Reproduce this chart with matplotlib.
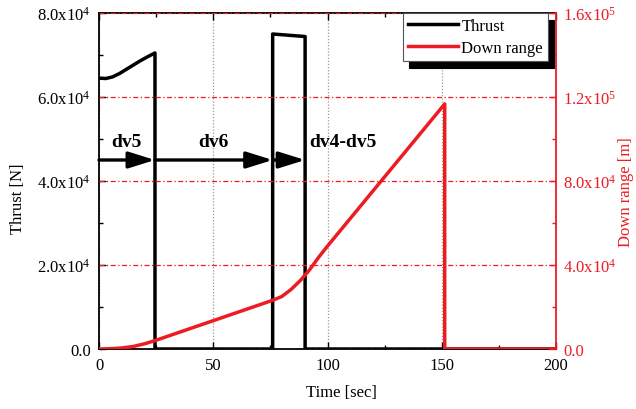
import math
import matplotlib
matplotlib.use("Agg")
import matplotlib.pyplot as plt
from matplotlib.ticker import FuncFormatter, MultipleLocator

# ---------------- data ----------------
thrust_t = [0, 3, 6, 9, 12, 15, 18, 21, 24.5, 24.5, 76, 76, 90.2, 90.2, 200]
thrust_v = [6.45e4, 6.44e4, 6.48e4, 6.56e4, 6.66e4, 6.76e4, 6.86e4, 6.95e4, 7.05e4,
            0, 0, 7.5e4, 7.44e4, 0, 0]

range_t = [0, 5, 10, 15, 20, 24.5, 50, 76, 80, 84, 88, 92, 96, 100, 151.3, 151.3, 200]
range_v = [0, 150, 500, 1200, 2500, 4000, 13500, 23200, 25000, 28300, 32500, 37500,
           43500, 49000, 116700, 0, 0]

phase_bounds = [0, 24.5, 76, 90.2]
phase_labels = ["dv5", "dv6", "dv4-dv5"]
phase_label_x = [12, 50, 92]
arrow_level = 4.5e4

RED = "#ED1C24"

plt.rcParams["font.family"] = ["Liberation Serif", "DejaVu Serif"]
plt.rcParams["mathtext.fontset"] = "custom"
plt.rcParams["mathtext.rm"] = "Liberation Serif"
plt.rcParams["mathtext.it"] = "Liberation Serif:italic"
plt.rcParams["mathtext.bf"] = "Liberation Serif:bold"
plt.rcParams["mathtext.default"] = "regular"

fig = plt.figure(figsize=(6.36, 4.10), dpi=100)
ax = fig.add_axes([99 / 636, 1 - 350 / 410, 457 / 636, 336 / 410])
ax2 = ax.twinx()


def sci_fmt(v, pos):
    if v == 0:
        return "0.0"
    e = int(math.floor(math.log10(abs(v)) + 1e-9))
    m = v / 10 ** e
    return r"$%.1fx10^{%d}$" % (m, e)


# thrust
ax.plot(thrust_t, thrust_v, color="black", lw=2.5, zorder=3, label="Thrust")
ax.set_xlim(0, 200)
ax.set_ylim(0, 8e4)
ax.xaxis.set_major_locator(MultipleLocator(50))
ax.xaxis.set_minor_locator(MultipleLocator(25))
ax.yaxis.set_major_locator(MultipleLocator(2e4))
ax.yaxis.set_minor_locator(MultipleLocator(1e4))
ax.yaxis.set_major_formatter(FuncFormatter(sci_fmt))
ax.tick_params(axis="both", which="both", direction="in", top=True, labelsize=12)
ax.tick_params(axis="x", which="major", length=5, width=1, pad=6)
ax.tick_params(axis="x", which="minor", length=3, width=1)
ax.tick_params(axis="y", which="major", length=5, width=1, pad=6)
ax.tick_params(axis="y", which="minor", length=3, width=1)
ax.grid(True, axis="x", which="major", color="#999999", ls=(0, (1, 1.5)), lw=0.9)
ax.set_xlabel("Time [sec]", fontsize=12)
ax.set_ylabel("Thrust [N]", fontsize=12)
ax.xaxis.set_label_coords(0.53, -0.105)
ax.yaxis.set_label_coords(-0.16, 0.45)
for s in ["left", "bottom", "top"]:
    ax.spines[s].set_linewidth(1.3)
ax.spines["right"].set_visible(False)

# arrows & phase labels
for i in range(len(phase_labels)):
    ax.annotate("", xy=(phase_bounds[i + 1], arrow_level), xytext=(phase_bounds[i], arrow_level),
                arrowprops=dict(arrowstyle="-|>,head_length=1.6,head_width=0.5",
                                lw=2.4, color="black", shrinkA=0, shrinkB=0,
                                mutation_scale=10), zorder=4)
    ax.text(phase_label_x[i], 4.93e4, phase_labels[i], fontsize=14, fontweight="bold",
            ha="center" if i < 2 else "left", va="center")

# down range
ax2.plot(range_t, range_v, color=RED, lw=2.5, zorder=3, label="Down range")
ax2.set_ylim(0, 1.6e5)
ax2.yaxis.set_major_locator(MultipleLocator(4e4))
ax2.yaxis.set_minor_locator(MultipleLocator(2e4))
ax2.yaxis.set_major_formatter(FuncFormatter(sci_fmt))
ax2.tick_params(axis="y", which="both", direction="in", colors=RED, labelsize=12)
ax2.tick_params(axis="y", which="major", length=5, width=1, pad=5)
ax2.tick_params(axis="y", which="minor", length=3, width=1)
ax2.grid(True, axis="y", which="major", color=RED, ls=(0, (4, 2, 1, 2)), lw=0.9)
ax2.set_ylabel("Down range [m]", fontsize=12, color=RED, rotation=90)
ax2.yaxis.set_label_coords(1.135, 0.47)
ax2.spines["right"].set_color(RED)
ax2.spines["right"].set_linewidth(1.3)
for s in ["left", "bottom", "top"]:
    ax2.spines[s].set_visible(False)

h1, l1 = ax.get_legend_handles_labels()
h2, l2 = ax2.get_legend_handles_labels()
leg = ax2.legend(h1 + h2, l1 + l2, loc="upper right",
                 bbox_to_anchor=(548 / 636, 1 - 14 / 410), bbox_transform=fig.transFigure,
                 fontsize=12, frameon=True, fancybox=False, framealpha=1,
                 edgecolor="#555555", handlelength=3.0, handletextpad=0.2,
                 borderpad=0.3, labelspacing=0.35, borderaxespad=0,
                 shadow={"color": "black", "alpha": 1, "ox": 4, "oy": -5})
leg.get_frame().set_linewidth(0.8)
leg.set_zorder(10)

fig.savefig("out.png", dpi=100)
